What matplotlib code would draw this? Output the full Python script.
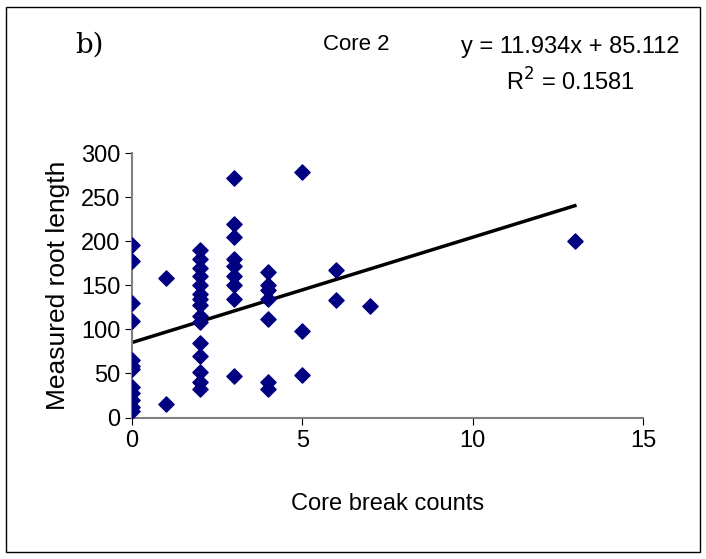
import matplotlib.pyplot as plt
import numpy as np

plt.rcParams['font.family'] = ['Liberation Sans', 'DejaVu Sans']

x0 = [0] * 12
y0 = [196, 178, 130, 110, 65, 58, 55, 35, 28, 20, 12, 8]
x1 = [1, 1]
y1 = [158, 15]
x2 = [2] * 15
y2 = [190, 180, 170, 160, 150, 140, 135, 128, 115, 108, 85, 70, 52, 40, 32]
x3 = [3] * 9
y3 = [272, 220, 205, 180, 172, 160, 150, 135, 47]
x4 = [4] * 7
y4 = [165, 150, 145, 135, 112, 40, 32]
x_rest = [5, 5, 5, 6, 6, 7, 13]
y_rest = [278, 98, 48, 167, 133, 127, 200]

xs = np.array(x0 + x1 + x2 + x3 + x4 + x_rest)
ys = np.array(y0 + y1 + y2 + y3 + y4 + y_rest)
slope, intercept = 11.934, 85.112

fig = plt.figure(figsize=(7.06, 5.59), dpi=100)
fig.patches.append(plt.Rectangle((0.008, 0.012), 0.984, 0.976, transform=fig.transFigure,
                                 fill=False, edgecolor='black', linewidth=1))
ax = fig.add_axes([132 / 706, 1 - 418 / 559, (643 - 132) / 706, (418 - 153) / 559])

ax.scatter(xs, ys, marker='D', s=60, color='#000080', zorder=3)
tx = np.array([0, 13])
ax.plot(tx, slope * tx + intercept, color='black', linewidth=2.5)

ax.set_xticks([0, 5, 10, 15])
ax.set_yticks(range(0, 301, 50))
ax.tick_params(labelsize=17, direction='out', length=5)
for s in ['top', 'right']:
    ax.spines[s].set_visible(False)
for s in ['left', 'bottom']:
    ax.spines[s].set_color('#808080')
    ax.spines[s].set_linewidth(1.5)
ax.set_xlim(-0.001, 15)
ax.set_ylim(-0.5, 300)

ax.set_xlabel('Core break counts', fontsize=17, labelpad=30)
ax.set_ylabel('Measured root length', fontsize=19, labelpad=8)

fig.text(75 / 706, 1 - 45 / 559, 'b)', fontsize=20, family='DejaVu Serif', va='center')
fig.text(356 / 706, 1 - 45 / 559, 'Core 2', fontsize=16, ha='center', va='center')
fig.text(570 / 706, 1 - 47 / 559, 'y = 11.934x + 85.112', fontsize=17, ha='center', va='center')
fig.text(570 / 706, 1 - 82 / 559, 'R$^2$ = 0.1581', fontsize=17, ha='center', va='center')

plt.savefig('out.png')
